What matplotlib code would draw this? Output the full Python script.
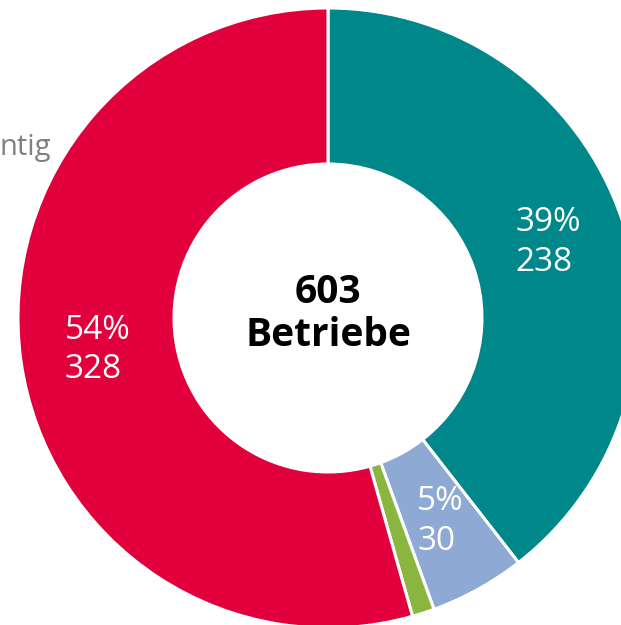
import matplotlib.pyplot as plt

# Betriebe je Kategorie
counts = [238, 30, 7, 328]
colors = ['#00878A', '#8DA9D4', '#8AB63F', '#E1003C']
total = sum(counts)

def fmt(pct):
    n = round(pct * total / 100)
    if n < 10:
        return ''
    return f'{round(pct):d}%\n{n}'

fig = plt.figure(figsize=(6.21, 6.25), dpi=100)
ax = fig.add_axes([0, 0, 1, 1])

wedges, texts, autotexts = ax.pie(
    counts, colors=colors, startangle=90, counterclock=False,
    center=(328, 307), radius=310, autopct=fmt, pctdistance=0.75,
    wedgeprops=dict(width=156, edgecolor='white', linewidth=2.2),
    textprops=dict(color='white', fontsize=24, family='Open Sans'))
for t in autotexts:
    t.set_multialignment('left')
    t.set_linespacing(1.25)

# pie setzt eigene Grenzen -> danach überschreiben
ax.set_xlim(0, 621)
ax.set_ylim(0, 625)
ax.set_aspect('equal')
ax.axis('off')

ax.text(328, 311, f'{total}\nBetriebe', ha='center', va='center',
        fontsize=28, fontweight='bold', family='Open Sans', linespacing=1.12)

# abgeschnittene Beschriftung am linken Rand
ax.text(0, 477, 'ntig', ha='left', va='center', fontsize=21,
        color='#808080', family='Open Sans')

fig.savefig('out.png', dpi=100)
